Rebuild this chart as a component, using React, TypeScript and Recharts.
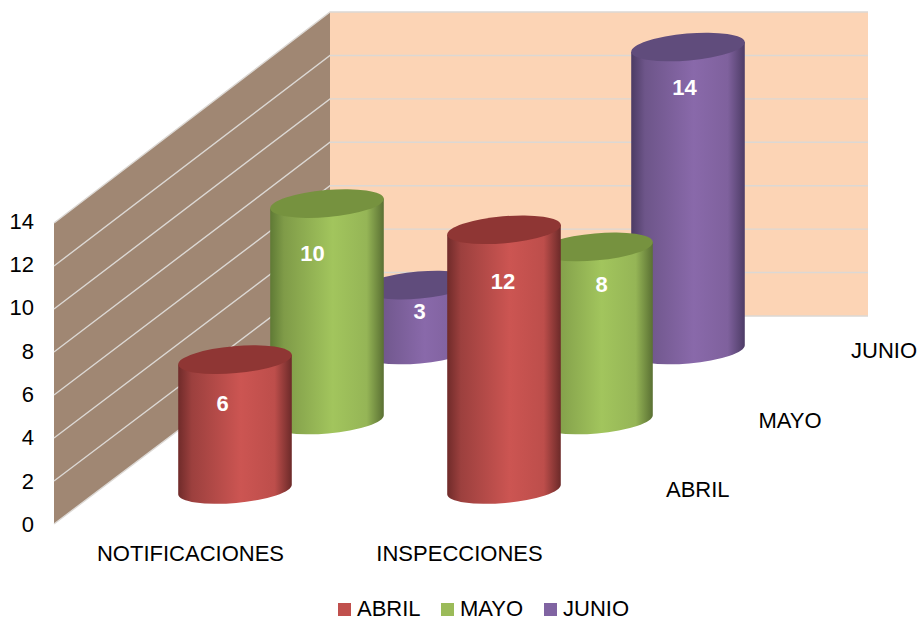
import { BarChart, Bar, XAxis, YAxis, CartesianGrid, Legend, LabelList } from 'recharts'

const categories = ['NOTIFICACIONES', 'INSPECCIONES']
const abril = [6, 12]
const mayo = [10, 8]
const junio = [3, 14]
const yTicks = [0, 2, 4, 6, 8, 10, 12, 14]
const legendNames = ['ABRIL', 'MAYO', 'JUNIO']

const data = categories.map((name, i) => ({ name, ABRIL: abril[i], MAYO: mayo[i], JUNIO: junio[i] }))

const FONT = '"Liberation Sans", Arial, sans-serif'
const PLOT_LEFT = 54
const PLOT_TOP = 221
const PLOT_BOTTOM = 524
const WALL_TOP = 223
const BACK_LEFT = 330
const BACK_RIGHT = 868
const BACK_TOP = 12
const BACK_BOTTOM = 316
const BAR_WIDTH = 114
const RX = 57
const RY = 13.5
const TILT = 5

// how far each row sits back from the front edge of the floor
const rowShift = [
  { dx: 46, dy: 34.5 },
  { dx: 138, dy: 104 },
  { dx: 230, dy: 174 }
]

const colors: Record<string, { main: string; edgeL: string; shoulder: string; mid: string; fade: string; edgeR: string; top: string }> = {
  ABRIL: { main: '#c0504d', edgeL: '#702b2a', shoulder: '#9c403e', mid: '#cc5552', fade: '#bd4e4b', edgeR: '#6c2a29', top: '#8f3634' },
  MAYO: { main: '#9bbb59', edgeL: '#5f7a35', shoulder: '#7f9b48', mid: '#a2c55d', fade: '#95b556', edgeR: '#5a7033', top: '#76923f' },
  JUNIO: { main: '#8064a2', edgeL: '#4c3b64', shoulder: '#6d5589', mid: '#8969aa', fade: '#7f619d', edgeR: '#4d3c66', top: '#604c7c' }
}

// excel had these labels dragged around by hand
const labelNudge: Record<string, { dx: number; dy: number }[]> = {
  ABRIL: [{ dx: -12.5, dy: 44 }, { dx: -1, dy: 52 }],
  MAYO: [{ dx: -14.5, dy: 50 }, { dx: 5.5, dy: 38 }],
  JUNIO: [{ dx: 0.5, dy: 26.5 }, { dx: -3.5, dy: 40 }]
}

function Cylinder({ x, y, height, row, name }: any) {
  const shift = rowShift[row]
  const cx = x + BAR_WIDTH / 2 + shift.dx
  const topY = y - shift.dy
  const botY = y + height - shift.dy
  const sx = RX * Math.cos((TILT * Math.PI) / 180)
  const sy = RX * Math.sin((TILT * Math.PI) / 180)
  const body = `M${cx - sx},${topY + sy} L${cx - sx},${botY + sy} A${RX},${RY} ${-TILT} 0 0 ${cx + sx},${botY - sy} L${cx + sx},${topY - sy} Z`
  return (
    <g>
      <path d={body} fill={`url(#body-${name})`} />
      <ellipse cx={cx} cy={topY} rx={RX} ry={RY} transform={`rotate(${-TILT} ${cx} ${topY})`} fill={colors[name].top} />
    </g>
  )
}

function BarLabel({ x, y, index, value, row, name }: any) {
  const nudge = labelNudge[name][index]
  return (
    <text
      x={x + BAR_WIDTH / 2 + rowShift[row].dx + nudge.dx}
      y={y - rowShift[row].dy + nudge.dy}
      textAnchor="middle"
      dominantBaseline="central"
      fill="#fff"
      fontWeight="bold"
      fontSize={22}
      fontFamily={FONT}
    >
      {value}
    </text>
  )
}

// the walls go in with the first grid line, otherwise they end up over the grid
function GridLine({ x1, y1, index }: any) {
  const t = (PLOT_BOTTOM - y1) / (PLOT_BOTTOM - PLOT_TOP)
  const backY = BACK_BOTTOM - t * (BACK_BOTTOM - BACK_TOP)
  const frontY = PLOT_BOTTOM - t * (PLOT_BOTTOM - WALL_TOP)
  return (
    <g>
      {index === 0 && (
        <>
          <polygon points={`${PLOT_LEFT},${WALL_TOP} ${BACK_LEFT},${BACK_TOP} ${BACK_LEFT},${BACK_BOTTOM} ${PLOT_LEFT},${PLOT_BOTTOM}`} fill="#a08773" />
          <rect x={BACK_LEFT} y={BACK_TOP} width={BACK_RIGHT - BACK_LEFT} height={BACK_BOTTOM - BACK_TOP} fill="#fcd4b5" />
        </>
      )}
      <polyline
        points={`${x1},${frontY} ${BACK_LEFT},${backY} ${BACK_RIGHT},${backY}`}
        fill="none"
        stroke="#dcd8d4"
        strokeWidth={1.4}
      />
    </g>
  )
}

function LegendRow() {
  return (
    <div style={{ height: 0, overflow: 'visible', position: 'relative', fontFamily: FONT, fontSize: 22, color: '#000' }}>
      {legendNames.map((n, i) => (
        <div key={n} style={{ position: 'absolute', left: 338 + i * 103, top: 0, display: 'flex', alignItems: 'center', lineHeight: '20px' }}>
          <span style={{ width: 13, height: 13, background: colors[n].main, marginRight: 6, display: 'inline-block' }} />
          <span>{n}</span>
        </div>
      ))}
    </div>
  )
}

export default function App() {
  const series = ['JUNIO', 'MAYO', 'ABRIL'] // back row drawn first
  return (
    <div style={{ position: 'absolute', left: 0, top: 0, width: 919, height: 617, overflow: 'hidden', background: '#fff' }}>
      <BarChart
        width={919}
        height={617}
        data={data}
        margin={{ top: PLOT_TOP, right: 919 - 592, left: 0, bottom: 0 }}
        barSize={BAR_WIDTH}
        barGap={-BAR_WIDTH}
        barCategoryGap={0}
      >
        <defs>
          {Object.entries(colors).map(([k, c]) => (
            <linearGradient key={k} id={`body-${k}`} x1="0" y1="0" x2="1" y2="0">
              <stop offset="0" stopColor={c.edgeL} />
              <stop offset="0.12" stopColor={c.shoulder} />
              <stop offset="0.55" stopColor={c.mid} />
              <stop offset="0.85" stopColor={c.fade} />
              <stop offset="1" stopColor={c.edgeR} />
            </linearGradient>
          ))}
        </defs>
        <CartesianGrid vertical={false} horizontal={(p: any) => <GridLine key={p.index} {...p} />} />
        <XAxis
          dataKey="name"
          height={93}
          axisLine={false}
          tickLine={false}
          tickMargin={15}
          tick={{ fill: '#000', fontSize: 22, fontFamily: FONT, dx: 2 }}
        />
        <YAxis
          width={PLOT_LEFT}
          domain={[0, 14]}
          ticks={yTicks}
          interval={0}
          axisLine={false}
          tickLine={false}
          tickMargin={14}
          tick={{ fill: '#000', fontSize: 22, fontFamily: FONT }}
        />
        <Legend content={<LegendRow />} wrapperStyle={{ top: 599, left: 0, width: 919 }} />
        {series.map((name) => {
          const row = legendNames.indexOf(name)
          return (
            <Bar
              key={name}
              dataKey={name}
              fill={colors[name].main}
              isAnimationActive={false}
              shape={(p: any) => <Cylinder {...p} row={row} name={name} />}
            >
              <LabelList dataKey={name} content={(p: any) => <BarLabel {...p} row={row} name={name} />} />
            </Bar>
          )
        })}
        {legendNames.map((name, row) => (
          <text
            key={name}
            x={666 + row * 92.5}
            y={PLOT_BOTTOM - rowShift[row].dy}
            dominantBaseline="central"
            fontSize={22}
            fontFamily={FONT}
            fill="#000"
          >
            {name}
          </text>
        ))}
      </BarChart>
    </div>
  )
}
